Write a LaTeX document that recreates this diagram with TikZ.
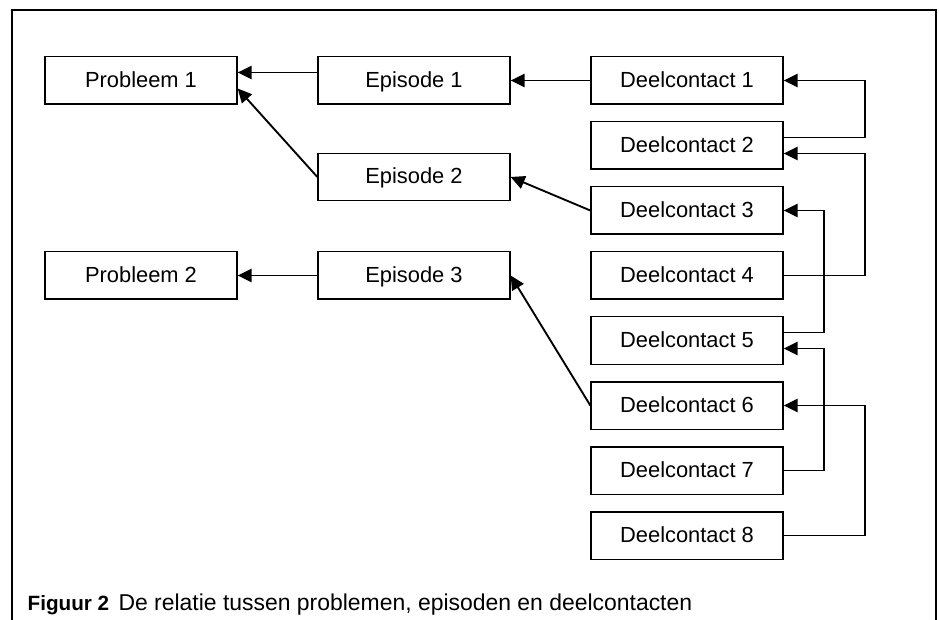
\documentclass[tikz,border=0pt]{standalone}
\usepackage{fontspec}
\setmainfont{Liberation Sans}
\usetikzlibrary{arrows.meta}

\tikzset{every picture/.style={line width=1pt}}
\tikzset{
  box/.style={draw, inner sep=0pt, minimum width=144pt, minimum height=35.5pt,
    text height=11.8pt, text depth=1.5pt, font=\fontsize{16.4}{18}\selectfont},
  conn/.style={line width=1.4pt, -{Triangle[length=10.5pt, width=10pt]}}
}

\begin{document}
\begin{tikzpicture}[x=0.75pt,y=0.75pt,yscale=-1,xscale=1]
\useasboundingbox (0,0) rectangle (939,620);

%Shape: Frame
\draw (12,620) -- (12,10) -- (936,10) -- (936,620) ;

%Shape: Rectangle (problemen)
\node [box] (p1) at (141,80.5) {Probleem 1};
\node [box] (p2) at (141,275.5) {Probleem 2};
%Shape: Rectangle (episoden)
\node [box] (e1) at (414,80.5) {Episode 1};
\node [box] (e2) at (414,177) {Episode 2};
\node [box] (e3) at (414,275.5) {Episode 3};
%Shape: Rectangle (deelcontacten)
\node [box] (d1) at (687,80.5) {Deelcontact 1};
\node [box] (d2) at (687,145.5) {Deelcontact 2};
\node [box] (d3) at (687,210.5) {Deelcontact 3};
\node [box] (d4) at (687,275.5) {Deelcontact 4};
\node [box] (d5) at (687,340.5) {Deelcontact 5};
\node [box] (d6) at (687,405.5) {Deelcontact 6};
\node [box] (d7) at (687,470.5) {Deelcontact 7};
\node [box] (d8) at (687,535.5) {Deelcontact 8};

%Straight Lines
\draw [conn] ([yshift=-6pt]e1.west) -- ([yshift=-6pt]p1.east) ;
\draw [conn] (e2.west) -- ([yshift=6pt]p1.east) ;
\draw [conn] (e3.west) -- (p2.east) ;
\draw [conn] (d1.west) -- (e1.east) ;
\draw [conn] (d3.west) -- (e2.east) ;
\draw [conn] (d6.west) -- (e3.east) ;

%Elbow Lines
\draw [conn] ([yshift=-6pt]d2.east) -- ++(81,0) |- (d1.east) ;
\draw [conn] (d4.east) -- ++(81,0) |- ([yshift=6pt]d2.east) ;
\draw [conn] ([yshift=-6pt]d5.east) -- ++(40,0) |- (d3.east) ;
\draw [conn] (d7.east) -- ++(40,0) |- ([yshift=6pt]d5.east) ;
\draw [conn] (d8.east) -- ++(81,0) |- (d6.east) ;

% Text Node
\node [anchor=base west, inner sep=0pt, font=\fontsize{17.2}{19}\selectfont] (cap) at (27,610)
  {\textbf{\fontsize{15.5}{19}\selectfont Figuur 2}\hspace{7pt}De relatie tussen problemen, episoden en deelcontacten};

\end{tikzpicture}
\end{document}
